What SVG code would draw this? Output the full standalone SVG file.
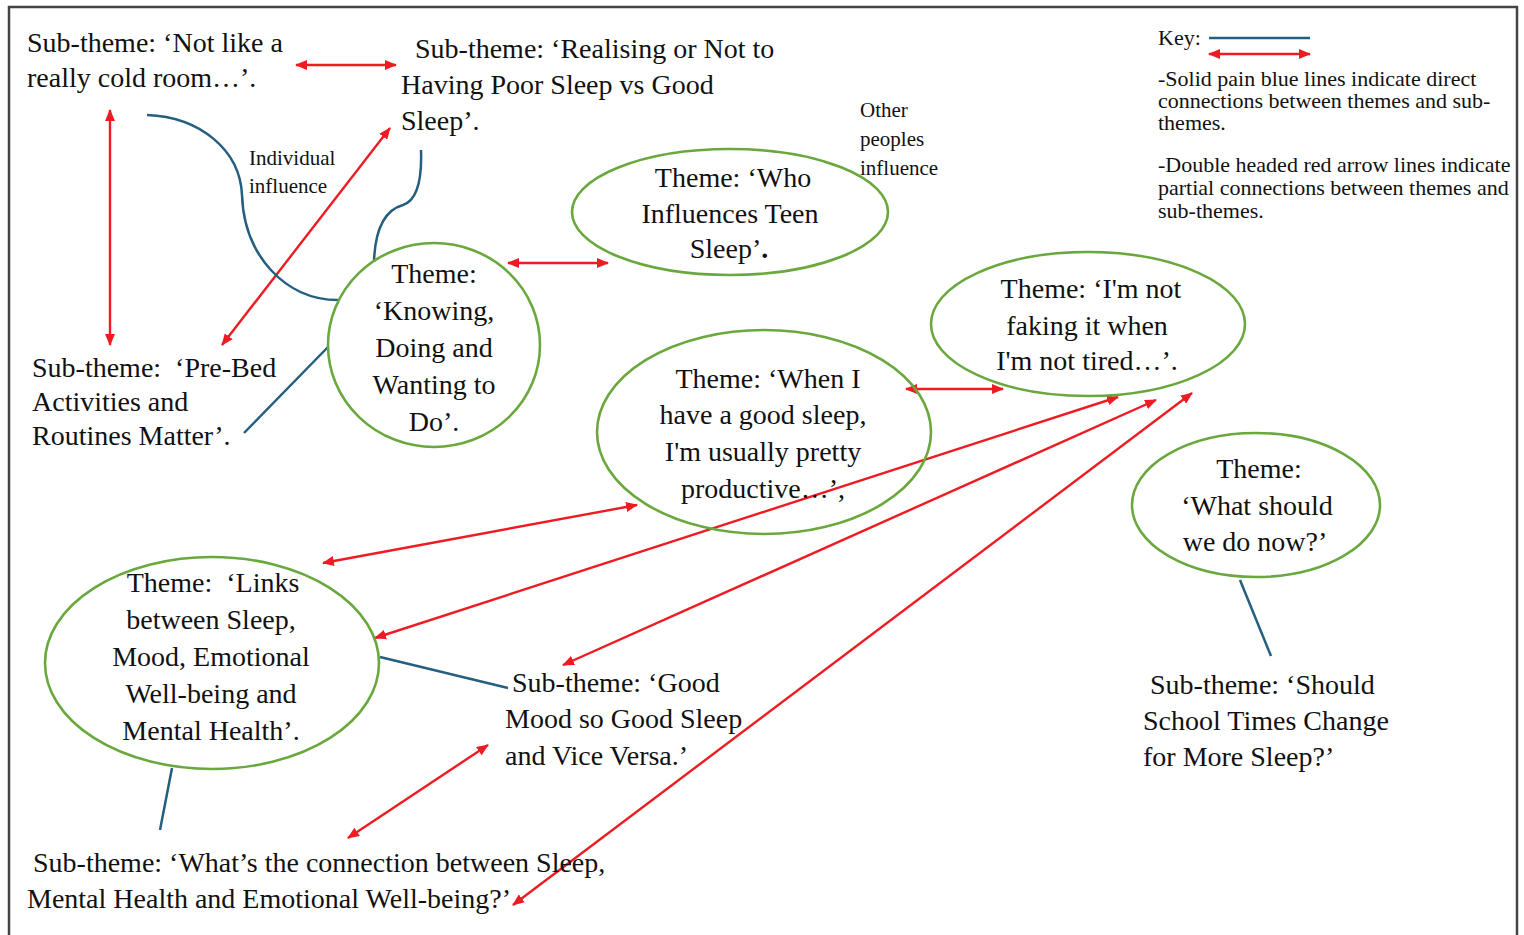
<svg xmlns="http://www.w3.org/2000/svg" width="1524" height="935" viewBox="0 0 1524 935">
<defs>
<style>
.t{font-family:"Liberation Serif","Times New Roman",serif;font-size:28px;fill:#111}
.c{text-anchor:middle}
.s{font-family:"Liberation Serif","Times New Roman",serif;font-size:21px;fill:#111}
.k{font-family:"Liberation Serif","Times New Roman",serif;font-size:22px;fill:#111}
.th{fill:none;stroke:#6aa83e;stroke-width:2.6}
.bl{fill:none;stroke:#245f80;stroke-width:2.5}
.rd{fill:none;stroke:#ee1c22;stroke-width:2.4;marker-start:url(#ah);marker-end:url(#ah)}
</style>
<marker id="ah" viewBox="0 0 12 10" refX="11" refY="5" markerWidth="12" markerHeight="10" markerUnits="userSpaceOnUse" orient="auto-start-reverse">
<path d="M0,0 L12,5 L0,10 Z" fill="#ee1c22"/>
</marker>
</defs>
<rect x="0" y="0" width="1524" height="935" fill="#ffffff"/>
<path d="M9,940 V7 H1517 V940" fill="none" stroke="#444" stroke-width="2.5"/>

<g id="connectors">
<line class="rd" x1="296" y1="65" x2="396" y2="65"/>
<line class="rd" x1="110" y1="110" x2="110" y2="345"/>
<line class="rd" x1="390" y1="128" x2="222" y2="345"/>
<path class="bl" d="M147,115 C200,117 240,150 242,195 C244,255 285,300 338,300"/>
<path class="bl" d="M421,150 C422,178 418,200 403,205 C385,210 375,230 374,262"/>
<line class="bl" x1="244" y1="433" x2="328" y2="347"/>
<line class="rd" x1="508" y1="263" x2="608" y2="263"/>
<line class="rd" x1="906" y1="389" x2="1003" y2="389"/>
<line class="rd" x1="1118" y1="397" x2="375" y2="638"/>
<line class="rd" x1="1156" y1="400" x2="563" y2="665"/>
<line class="rd" x1="1192" y1="393" x2="513" y2="905"/>
<line class="rd" x1="637" y1="505" x2="323" y2="563"/>
<line class="bl" x1="380" y1="657" x2="508" y2="688"/>
<line class="rd" x1="488" y1="745" x2="348" y2="838"/>
<line class="bl" x1="172" y1="768" x2="160" y2="830"/>
<line class="bl" x1="1240" y1="580" x2="1271" y2="656"/>
</g>

<g id="sub-cold-room">
<text class="t" x="27" y="52">Sub-theme: ‘Not like a</text>
<text class="t" x="27" y="87">really cold room…’.</text>
</g>
<g id="sub-realising">
<text class="t" x="415" y="58">Sub-theme: ‘Realising or Not to</text>
<text class="t" x="401" y="94">Having Poor Sleep vs Good</text>
<text class="t" x="401" y="130">Sleep’.</text>
</g>
<g id="label-individual">
<text class="s" x="249" y="165">Individual</text>
<text class="s" x="249" y="193">influence</text>
</g>
<g id="sub-prebed">
<text class="t" x="32" y="377" style="white-space:pre">Sub-theme:  ‘Pre-Bed</text>
<text class="t" x="32" y="411">Activities and</text>
<text class="t" x="32" y="445">Routines Matter’.</text>
</g>
<g id="theme-knowing">
<ellipse class="th" cx="434" cy="345" rx="106" ry="102"/>
<text class="t c" x="434" y="283">Theme:</text>
<text class="t c" x="434" y="320">‘Knowing,</text>
<text class="t c" x="434" y="357">Doing and</text>
<text class="t c" x="434" y="394">Wanting to</text>
<text class="t c" x="434" y="431">Do’.</text>
</g>
<g id="theme-who">
<ellipse class="th" cx="730" cy="212" rx="158" ry="63"/>
<text class="t c" x="733" y="187">Theme: ‘Who</text>
<text class="t c" x="730" y="223">Influences Teen</text>
<text class="t c" x="729" y="258">Sleep’<tspan font-weight="bold">.</tspan></text>
</g>
<g id="label-other">
<text class="s" x="860" y="117">Other</text>
<text class="s" x="860" y="146">peoples</text>
<text class="s" x="860" y="175">influence</text>
</g>
<g id="key">
<text class="k" x="1158" y="45">Key:</text>
<line x1="1209" y1="38" x2="1310" y2="38" stroke="#245f80" stroke-width="2.5"/>
<line class="rd" x1="1209" y1="54" x2="1310" y2="54"/>
<text class="k" x="1158" y="86">-Solid pain blue lines indicate direct</text>
<text class="k" x="1158" y="108">connections between themes and sub-</text>
<text class="k" x="1158" y="130">themes.</text>
<text class="k" x="1158" y="172">-Double headed red arrow lines indicate</text>
<text class="k" x="1158" y="195">partial connections between themes and</text>
<text class="k" x="1158" y="218">sub-themes.</text>
</g>
<g id="theme-not-faking">
<ellipse class="th" cx="1088" cy="324" rx="157" ry="72"/>
<text class="t c" x="1091" y="298">Theme: ‘I'm not</text>
<text class="t c" x="1087" y="335">faking it when</text>
<text class="t c" x="1087" y="370">I'm not tired…’.</text>
</g>
<g id="theme-when-i">
<ellipse class="th" cx="764" cy="432" rx="167" ry="102"/>
<text class="t c" x="768" y="388">Theme: ‘When I</text>
<text class="t c" x="763" y="424">have a good sleep,</text>
<text class="t c" x="763" y="461">I'm usually pretty</text>
<text class="t c" x="763" y="498">productive…’,</text>
</g>
<g id="theme-what-should">
<ellipse class="th" cx="1256" cy="505" rx="124" ry="72"/>
<text class="t c" x="1259" y="478">Theme:</text>
<text class="t c" x="1257" y="515">‘What should</text>
<text class="t c" x="1255" y="551">we do now?’</text>
</g>
<g id="theme-links">
<ellipse class="th" cx="212" cy="663" rx="167" ry="106"/>
<text class="t c" x="213" y="592" style="white-space:pre">Theme:  ‘Links</text>
<text class="t c" x="211" y="629">between Sleep,</text>
<text class="t c" x="211" y="666">Mood, Emotional</text>
<text class="t c" x="211" y="703">Well-being and</text>
<text class="t c" x="211" y="740">Mental Health’.</text>
</g>
<g id="sub-good-mood">
<text class="t" x="512" y="692">Sub-theme: ‘Good</text>
<text class="t" x="505" y="728">Mood so Good Sleep</text>
<text class="t" x="505" y="765">and Vice Versa.’</text>
</g>
<g id="sub-connection">
<text class="t" x="33" y="872">Sub-theme: ‘What’s the connection between Sleep,</text>
<text class="t" x="27" y="908">Mental Health and Emotional Well-being?’</text>
</g>
<g id="sub-school-times">
<text class="t" x="1150" y="694">Sub-theme: ‘Should</text>
<text class="t" x="1143" y="730">School Times Change</text>
<text class="t" x="1143" y="766">for More Sleep?’</text>
</g>
</svg>
